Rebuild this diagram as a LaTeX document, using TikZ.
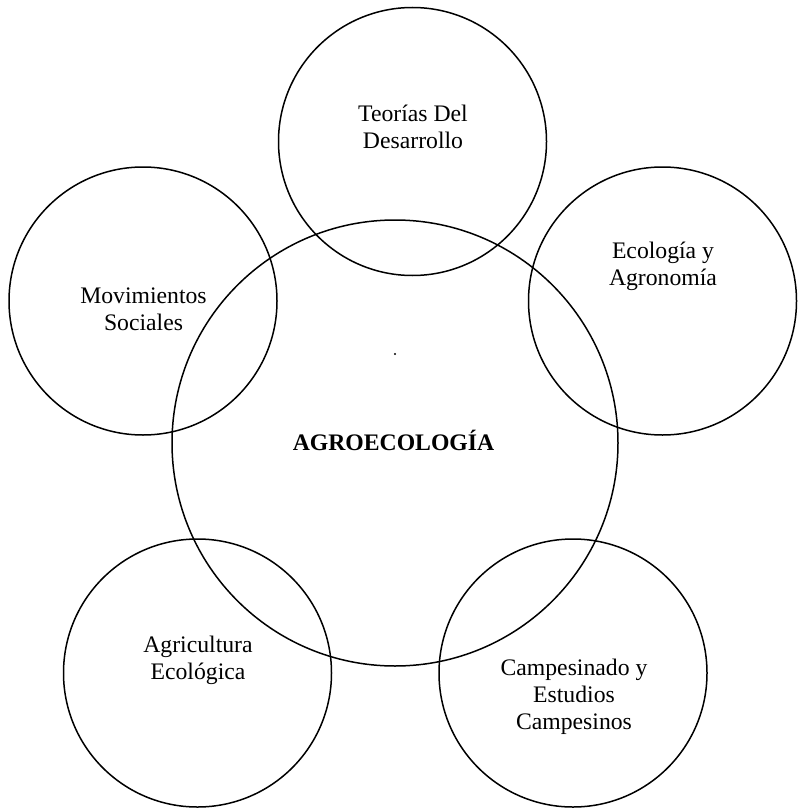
\documentclass[tikz,border=0pt]{standalone}
\usepackage{fontspec}
\setmainfont{Liberation Serif}
\newcommand{\lines}[1]{\begin{tabular}[t]{@{}c@{}}#1\end{tabular}}
\begin{document}
\begin{tikzpicture}[x=1pt,y=-1pt,
  field/.style={circle, draw=black, line width=1.5pt, inner sep=0pt},
  label/.style={anchor=base, inner sep=0pt, font=\fontsize{23.7}{27}\selectfont},
  core/.style={anchor=base, inner sep=0pt, font=\fontsize{23.7}{27}\selectfont\bfseries}]
  \useasboundingbox (0,0) rectangle (799,808);

  % central field
  \node[field, minimum size=446pt] (agro) at (395,443) {};

  % surrounding fields
  \node[field, minimum size=268pt] (teo) at (412.5,141.5) {};
  \node[field, minimum size=268pt] (mov) at (143,301) {};
  \node[field, minimum size=268pt] (eco) at (662.5,301) {};
  \node[field, minimum size=268pt] (agr) at (197.5,673) {};
  \node[field, minimum size=268pt] (cam) at (573,673) {};

  % labels
  \node[core]  (agrot) at (393.5,450) {AGROECOLOGÍA};
  \node[label] (teot) at (413,121) {\lines{Teorías Del\\Desarrollo}};
  \node[label] (ecot) at (663,258) {\lines{Ecología y\\Agronomía}};
  \node[label] (movt) at (143.5,303) {\lines{Movimientos\\Sociales}};
  \node[label] (agrt) at (198,652) {\lines{Agricultura\\Ecológica}};
  \node[label] (camt) at (574,675) {\lines{Campesinado y\\Estudios\\Campesinos}};

  % stray mark
  \fill (395,354) circle (1.1pt);
\end{tikzpicture}
\end{document}
